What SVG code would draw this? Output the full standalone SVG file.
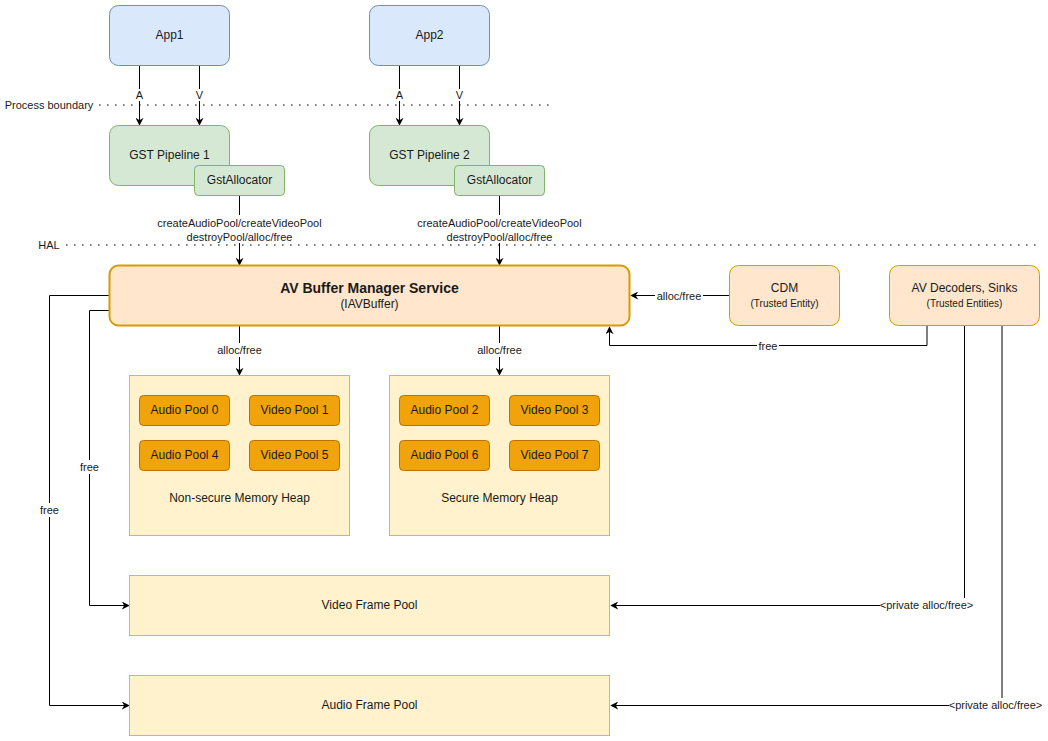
<svg xmlns="http://www.w3.org/2000/svg" width="1048" height="741" viewBox="0 0 1048 741">
<style>
text{font-family:"Liberation Sans",Arial,sans-serif;fill:#1a1a1a;text-anchor:middle}
.t12{font-size:12px}
.t11{font-size:11px}
.t10{font-size:10px}
.app{fill:#dae8fc;stroke:#6c8ebf;stroke-width:1}
.gst{fill:#d5e8d4;stroke:#82b366;stroke-width:1}
.svc{fill:#ffe6cc;stroke:#d79b00}
.heap{fill:#fff2cc;stroke:#d6b656;stroke-width:1}
.pool{fill:#f0a30a;stroke:#bd7000;stroke-width:1}
.ln{fill:none;stroke:#000;stroke-width:1}
.dot{fill:none;stroke:#555;stroke-width:1.6;stroke-dasharray:1.6 6.4}
.bg{fill:#fff}
</style>
<defs>
<marker id="arr" viewBox="0 0 10 10" refX="9" refY="5" markerWidth="8" markerHeight="8" markerUnits="userSpaceOnUse" orient="auto">
<path d="M0,0 L10,5 L0,10 L3,5 Z" fill="#000"/>
</marker>
</defs>

<g id="boundaries">
<text class="t11" x="49" y="109">Process boundary</text>
<line class="dot" x1="99" y1="105" x2="550" y2="105"/>
<text class="t11" x="49" y="249">HAL</text>
<line class="dot" x1="66" y1="245" x2="1038" y2="245"/>
</g>

<g id="connectors">
<line class="ln" x1="139.5" y1="66" x2="139.5" y2="125" marker-end="url(#arr)"/>
<line class="ln" x1="199.5" y1="66" x2="199.5" y2="125" marker-end="url(#arr)"/>
<line class="ln" x1="399.5" y1="66" x2="399.5" y2="125" marker-end="url(#arr)"/>
<line class="ln" x1="459.5" y1="66" x2="459.5" y2="125" marker-end="url(#arr)"/>
<rect class="bg" x="134" y="89" width="11" height="12"/>
<rect class="bg" x="194" y="89" width="11" height="12"/>
<rect class="bg" x="394" y="89" width="11" height="12"/>
<rect class="bg" x="454" y="89" width="11" height="12"/>
<text class="t11" x="139.5" y="99">A</text>
<text class="t11" x="199.5" y="99">V</text>
<text class="t11" x="399.5" y="99">A</text>
<text class="t11" x="459.5" y="99">V</text>

<line class="ln" x1="239.5" y1="196" x2="239.5" y2="265" marker-end="url(#arr)"/>
<line class="ln" x1="499.5" y1="196" x2="499.5" y2="265" marker-end="url(#arr)"/>
<rect class="bg" x="156" y="215" width="167" height="28"/>
<rect class="bg" x="416" y="215" width="167" height="28"/>
<text class="t11" x="239.5" y="227">createAudioPool/createVideoPool</text>
<text class="t11" x="239.5" y="241">destroyPool/alloc/free</text>
<text class="t11" x="499.5" y="227">createAudioPool/createVideoPool</text>
<text class="t11" x="499.5" y="241">destroyPool/alloc/free</text>

<line class="ln" x1="239.5" y1="326" x2="239.5" y2="375" marker-end="url(#arr)"/>
<line class="ln" x1="499.5" y1="326" x2="499.5" y2="375" marker-end="url(#arr)"/>
<rect class="bg" x="214" y="343" width="51" height="14"/>
<rect class="bg" x="474" y="343" width="51" height="14"/>
<text class="t11" x="239.5" y="354">alloc/free</text>
<text class="t11" x="499.5" y="354">alloc/free</text>

<line class="ln" x1="730" y1="295.5" x2="631" y2="295.5" marker-end="url(#arr)"/>
<rect class="bg" x="655" y="289" width="48" height="13"/>
<text class="t11" x="679" y="299.5">alloc/free</text>

<polyline class="ln" points="927,326 927,345.5 609.5,345.5 609.5,327" marker-end="url(#arr)"/>
<rect class="bg" x="757" y="339" width="22" height="13"/>
<text class="t11" x="768" y="349.5">free</text>

<polyline class="ln" points="110,295.5 49.5,295.5 49.5,705.5 129,705.5" marker-end="url(#arr)"/>
<polyline class="ln" points="110,310.5 89.5,310.5 89.5,605.5 129,605.5" marker-end="url(#arr)"/>
<rect class="bg" x="38" y="503" width="23" height="14"/>
<text class="t11" x="49.5" y="513.5">free</text>
<rect class="bg" x="78" y="460" width="23" height="14"/>
<text class="t11" x="89.5" y="470.5">free</text>

<polyline class="ln" points="964.5,326 964.5,605.5 611,605.5" marker-end="url(#arr)"/>
<polyline class="ln" points="1002,326 1002,705.5 611,705.5" marker-end="url(#arr)"/>
<rect class="bg" x="880" y="598" width="93" height="14"/>
<text class="t11" x="926.5" y="609">&lt;private alloc/free&gt;</text>
<rect class="bg" x="949" y="698" width="94" height="14"/>
<text class="t11" x="995.5" y="709">&lt;private alloc/free&gt;</text>
</g>

<g id="app1">
<rect class="app" x="109.5" y="5.5" width="120" height="60" rx="9"/>
<text class="t12" x="169.5" y="38.5">App1</text>
</g>
<g id="app2">
<rect class="app" x="369.5" y="5.5" width="120" height="60" rx="9"/>
<text class="t12" x="429.5" y="38.5">App2</text>
</g>

<g id="gst1">
<rect class="gst" x="109.5" y="125.5" width="120" height="60" rx="9"/>
<text class="t12" x="169.5" y="158.5">GST Pipeline 1</text>
</g>
<g id="gstalloc1">
<rect class="gst" x="194.5" y="165.5" width="90" height="30" rx="4"/>
<text class="t12" x="239.5" y="183.5">GstAllocator</text>
</g>
<g id="gst2">
<rect class="gst" x="369.5" y="125.5" width="120" height="60" rx="9"/>
<text class="t12" x="429.5" y="158.5">GST Pipeline 2</text>
</g>
<g id="gstalloc2">
<rect class="gst" x="454.5" y="165.5" width="90" height="30" rx="4"/>
<text class="t12" x="499.5" y="183.5">GstAllocator</text>
</g>

<g id="avbm">
<rect class="svc" x="109.5" y="265.5" width="520" height="60" rx="9" stroke-width="2"/>
<text x="369.5" y="292.5" style="font-size:14px;font-weight:bold">AV Buffer Manager Service</text>
<text class="t12" x="369.5" y="307.5">(IAVBuffer)</text>
</g>

<g id="cdm">
<rect class="svc" x="729.5" y="265.5" width="110" height="60" rx="9" stroke-width="1"/>
<text class="t12" x="784.5" y="292">CDM</text>
<text class="t10" x="784.5" y="307">(Trusted Entity)</text>
</g>

<g id="avdec">
<rect class="svc" x="889.5" y="265.5" width="150" height="60" rx="9" stroke-width="1"/>
<text class="t12" x="964.5" y="292">AV Decoders, Sinks</text>
<text class="t10" x="964.5" y="307">(Trusted Entities)</text>
</g>

<g id="nonsecure">
<rect class="heap" x="129.5" y="375.5" width="220" height="160"/>
<text class="t12" x="239.5" y="501.5">Non-secure Memory Heap</text>
</g>
<g id="ap0"><rect class="pool" x="139.5" y="395.5" width="90" height="30" rx="4"/><text class="t12" x="184.5" y="413.5">Audio Pool 0</text></g>
<g id="vp1"><rect class="pool" x="249.5" y="395.5" width="90" height="30" rx="4"/><text class="t12" x="294.5" y="413.5">Video Pool 1</text></g>
<g id="ap4"><rect class="pool" x="139.5" y="440.5" width="90" height="30" rx="4"/><text class="t12" x="184.5" y="458.5">Audio Pool 4</text></g>
<g id="vp5"><rect class="pool" x="249.5" y="440.5" width="90" height="30" rx="4"/><text class="t12" x="294.5" y="458.5">Video Pool 5</text></g>

<g id="secure">
<rect class="heap" x="389.5" y="375.5" width="220" height="160"/>
<text class="t12" x="499.5" y="501.5">Secure Memory Heap</text>
</g>
<g id="ap2"><rect class="pool" x="399.5" y="395.5" width="90" height="30" rx="4"/><text class="t12" x="444.5" y="413.5">Audio Pool 2</text></g>
<g id="vp3"><rect class="pool" x="509.5" y="395.5" width="90" height="30" rx="4"/><text class="t12" x="554.5" y="413.5">Video Pool 3</text></g>
<g id="ap6"><rect class="pool" x="399.5" y="440.5" width="90" height="30" rx="4"/><text class="t12" x="444.5" y="458.5">Audio Pool 6</text></g>
<g id="vp7"><rect class="pool" x="509.5" y="440.5" width="90" height="30" rx="4"/><text class="t12" x="554.5" y="458.5">Video Pool 7</text></g>

<g id="videoframepool">
<rect class="heap" x="129.5" y="575.5" width="480" height="60"/>
<text class="t12" x="369.5" y="608.5">Video Frame Pool</text>
</g>
<g id="audioframepool">
<rect class="heap" x="129.5" y="675.5" width="480" height="60"/>
<text class="t12" x="369.5" y="708.5">Audio Frame Pool</text>
</g>
</svg>
